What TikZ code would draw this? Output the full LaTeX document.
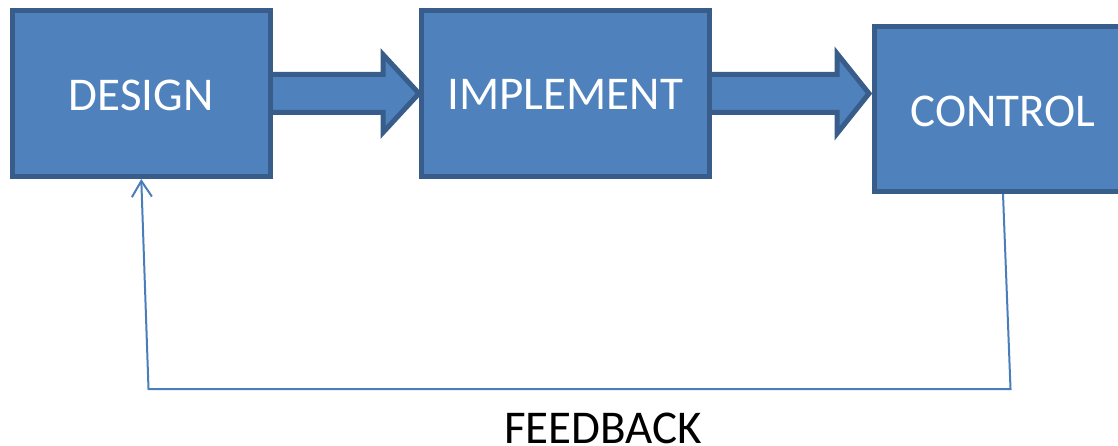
\documentclass[tikz,border=0pt]{standalone}
\usepackage{fontspec}
\setmainfont{Carlito}
\usetikzlibrary{arrows.meta}
\definecolor{boxfill}{HTML}{4F81BD}
\definecolor{boxline}{HTML}{385D8A}
\definecolor{fbline}{HTML}{4A7EBB}
\newcommand{\lowered}[2]{\raisebox{-#1}[\height][0pt]{#2}}
\begin{document}
\begin{tikzpicture}[x=1pt,y=-1pt,
  stage/.style={draw=boxline,fill=boxfill,line width=5pt,rectangle,
    text=white,font=\fontsize{47}{50}\selectfont,inner sep=0pt,outer sep=2.5pt},
  blockarrow/.style={draw=boxline,fill=boxfill,line width=5pt,line join=miter},
  feedback/.style={draw=fbline,line width=2pt,
    -{Straight Barb[length=16pt,width=20pt,line width=2pt]}},
  caption/.style={text=black,font=\fontsize{47}{50}\selectfont,inner sep=0pt}]
\useasboundingbox (0,0) rectangle (1118,446);
\clip (0,0) rectangle (1118,446);

% block arrows between the stages (drawn first, the boxes cover their tails)
\draw[blockarrow] (250,74.5) -- (383,74.5) -- (383,54.5) -- (419,93.5)
  -- (383,132.5) -- (383,112.5) -- (250,112.5) -- cycle;
\draw[blockarrow] (690,74.5) -- (837,74.5) -- (837,53.5) -- (869,93.5)
  -- (837,133.5) -- (837,112.5) -- (690,112.5) -- cycle;

% stages
\node[stage,minimum width=257.5pt,minimum height=165.5pt] (design)
  at (141.25,93.75) {\lowered{1.5pt}{DESIGN}};
\node[stage,minimum width=287.5pt,minimum height=165.5pt] (implement)
  at (565.25,93.75) {\lowered{1pt}{IMPLEMENT}};
\node[stage,minimum width=257pt,minimum height=165pt] (control)
  at (1003,109) {\lowered{2.5pt}{CONTROL}};

% feedback loop
\coordinate (fbright) at (1010.5,389);
\coordinate (fbleft) at (148.5,389);
\draw[feedback] (control.south) -- (fbright) -- (fbleft) -- (design.south);
\node[caption] (fblabel) at (603,428.5) {FEEDBACK};
\end{tikzpicture}
\end{document}
